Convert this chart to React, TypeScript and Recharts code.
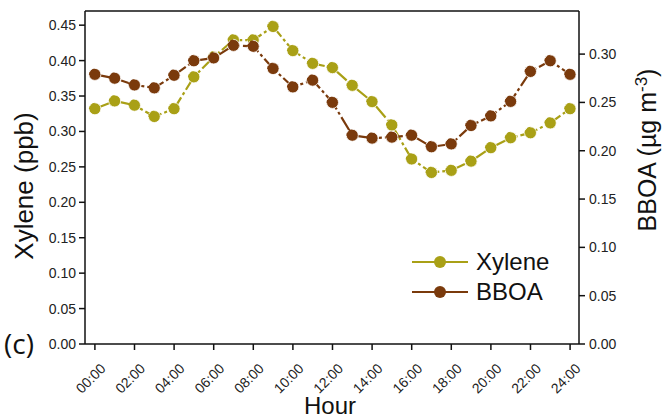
import {
  Line,
  LineChart,
  ReferenceLine,
  XAxis,
  YAxis,
} from 'recharts'

const HOURS = [0, 1, 2, 3, 4, 5, 6, 7, 8, 9, 10, 11, 12, 13, 14, 15, 16, 17, 18, 19, 20, 21, 22, 23, 24]
const XYLENE = [
  0.332, 0.343, 0.337, 0.321, 0.332, 0.377, 0.405, 0.429, 0.429, 0.448, 0.414, 0.396, 0.39,
  0.365, 0.342, 0.309, 0.261, 0.242, 0.245, 0.258, 0.277, 0.291, 0.298, 0.312, 0.332,
]
const BBOA = [
  0.279, 0.275, 0.268, 0.265, 0.278, 0.293, 0.296, 0.309, 0.308, 0.285, 0.266, 0.273, 0.25,
  0.216, 0.213, 0.214, 0.216, 0.204, 0.207, 0.226, 0.236, 0.251, 0.282, 0.293, 0.279,
]
const X_TICKS = [0, 2, 4, 6, 8, 10, 12, 14, 16, 18, 20, 22, 24]
const LEFT_TICKS = [0, 0.05, 0.1, 0.15, 0.2, 0.25, 0.3, 0.35, 0.4, 0.45]
const RIGHT_TICKS = [0, 0.05, 0.1, 0.15, 0.2, 0.25, 0.3]
const SERIES_NAMES = ['Xylene', 'BBOA']

const XYLENE_COLOR = '#a9a016'
const BBOA_COLOR = '#7a3a0c'
const FONT = '"Liberation Sans", Arial, sans-serif'
const LEFT_MAX = 0.47
const RIGHT_MAX = 0.3446

const chartData = HOURS.map((hour, i) => ({ hour, xylene: XYLENE[i], bboa: BBOA[i] }))

const fmtHour = (h: number) => `${String(h).padStart(2, '0')}:00`

// rotated hour labels, hanging below the tick like the original
function HourTick({ x, y, payload }: any) {
  return (
    <g transform={`translate(${x + 8},${y + 14})`}>
      <text
        x={0}
        y={0}
        textAnchor="end"
        dominantBaseline="central"
        transform="rotate(-45)"
        fontSize={14}
        fontFamily={FONT}
        fill="#222"
      >
        {fmtHour(payload.value)}
      </text>
    </g>
  )
}

function SeriesLegend() {
  const colors = [XYLENE_COLOR, BBOA_COLOR]
  return (
    <g transform="translate(410,262)">
      {SERIES_NAMES.map((name, i) => (
        <g key={name} transform={`translate(0,${i * 30})`}>
          <line x1={2} x2={58} y1={0} y2={0} stroke={colors[i]} strokeWidth={2} />
          <circle cx={30} cy={0} r={6} fill={colors[i]} />
          <text x={66} y={8} fontSize={24} fontFamily={FONT} fill="#111">
            {name}
          </text>
        </g>
      ))}
    </g>
  )
}

function App() {
  return (
    <div style={{ position: 'absolute', left: 0, top: 0, width: 662, height: 418, background: '#fff' }}>
      <LineChart
        width={662}
        height={418}
        data={chartData}
        margin={{ top: 11, right: 0, bottom: 0, left: 0 }}
      >
        <XAxis
          type="number"
          dataKey="hour"
          domain={[-0.5, 24.45]}
          ticks={X_TICKS}
          allowDataOverflow
          height={74}
          tickSize={6}
          tickLine={{ stroke: '#111', strokeWidth: 1.5 }}
          axisLine={{ stroke: '#111', strokeWidth: 1.5 }}
          tick={<HourTick />}
          interval={0}
        />
        <YAxis
          yAxisId="left"
          domain={[0, LEFT_MAX]}
          ticks={LEFT_TICKS}
          allowDataOverflow
          width={85}
          tickSize={6}
          tickMargin={3}
          interval={0}
          tickFormatter={(v: number) => v.toFixed(2)}
          tick={{ fontSize: 14, fontFamily: FONT, fill: '#222' }}
          tickLine={{ stroke: '#111', strokeWidth: 1.5 }}
          axisLine={{ stroke: '#111', strokeWidth: 1.5 }}
        />
        <YAxis
          yAxisId="right"
          orientation="right"
          domain={[0, RIGHT_MAX]}
          ticks={RIGHT_TICKS}
          allowDataOverflow
          width={83}
          tickSize={6}
          tickMargin={4}
          interval={0}
          tickFormatter={(v: number) => v.toFixed(2)}
          tick={{ fontSize: 14, fontFamily: FONT, fill: '#222' }}
          tickLine={{ stroke: '#111', strokeWidth: 1.5 }}
          axisLine={{ stroke: '#111', strokeWidth: 1.5 }}
        />
        <ReferenceLine yAxisId="left" y={LEFT_MAX} stroke="#111" strokeWidth={1.5} />
        <Line
          yAxisId="left"
          type="linear"
          dataKey="xylene"
          name={SERIES_NAMES[0]}
          stroke={XYLENE_COLOR}
          strokeWidth={2.2}
          strokeDasharray="18 3 3 3"
          dot={{ r: 6, fill: XYLENE_COLOR, stroke: '#fff', strokeWidth: 0.8 }}
          isAnimationActive={false}
        />
        <Line
          yAxisId="right"
          type="linear"
          dataKey="bboa"
          name={SERIES_NAMES[1]}
          stroke={BBOA_COLOR}
          strokeWidth={2.2}
          strokeDasharray="18 3 3 3"
          dot={{ r: 6, fill: BBOA_COLOR, stroke: '#fff', strokeWidth: 0.8 }}
          isAnimationActive={false}
        />
      </LineChart>
      <svg
        width={662}
        height={418}
        style={{ position: 'absolute', left: 0, top: 0, pointerEvents: 'none' }}
      >
        <SeriesLegend />
        <text
          transform="translate(33,186) rotate(-90)"
          textAnchor="middle"
          fontSize={26}
          fontFamily={FONT}
          fill="#111"
        >
          Xylene (ppb)
        </text>
        <text
          transform="translate(656,150) rotate(-90)"
          textAnchor="middle"
          fontSize={25}
          fontFamily={FONT}
          fill="#111"
        >
          BBOA (µg m
          <tspan dy={-9} fontSize={17}>-3</tspan>
          <tspan dy={9}>)</tspan>
        </text>
        <text x={330} y={414} textAnchor="middle" fontSize={24} fontFamily={FONT} fill="#111">
          Hour
        </text>
        <text x={4} y={354} fontSize={28} fontWeight={500} fontFamily='"Open Sans", sans-serif' fill="#111">
          (c)
        </text>
      </svg>
    </div>
  )
}

export default App
